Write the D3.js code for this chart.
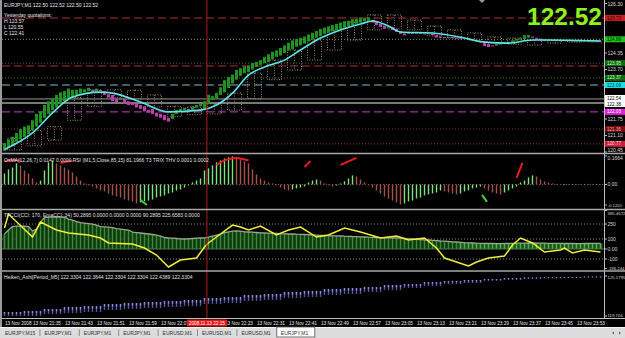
<!DOCTYPE html>
<html>
<head>
<meta charset="utf-8">
<script src="https://cdn.jsdelivr.net/npm/d3@7"></script>
<style>
  body { margin: 0; background: #000; overflow: hidden; }
  text { font-family: "Liberation Sans", Arial, sans-serif; }
</style>
</head>
<body>
<svg id="chart"></svg>
<script>
const W = 625, H = 338;
const nBars = 150;

// ---- main chart (EURJPY M1) ----
const candleOpen = [
  120.50,120.62,120.70,120.85,120.95,121.05,121.15,121.30,121.45,121.60,
  121.80,121.95,122.10,122.20,122.35,122.45,122.55,122.62,122.70,122.75,
  122.80,122.85,122.90,122.82,122.90,122.85,122.72,122.70,122.55,122.50,
  122.55,122.45,122.40,122.35,122.30,122.25,122.10,122.15,122.00,121.95,
  121.90,121.80,121.75,121.95,122.05,122.10,122.15,122.10,122.20,122.25,
  122.15,122.35,122.50,122.55,122.70,122.80,122.97,123.15,123.30,123.45,
  123.56,123.60,123.70,123.80,123.88,123.95,124.00,124.10,124.20,124.25,
  124.35,124.45,124.50,124.60,124.65,124.72,124.80,124.88,124.95,125.02,
  125.10,125.15,125.20,125.25,125.30,125.35,125.40,125.45,125.50,125.55,
  125.60,125.62,125.65,125.58,125.50,125.42,125.35,125.38,125.30,125.22,
  125.12,125.10,125.14,125.10,125.14,125.12,125.10,125.12,125.06,125.00,
  124.98,124.95,124.98,124.95,124.93,124.92,124.94,124.88,124.86,124.82,
  124.80,124.70,124.65,124.64,124.70,124.72,124.75,124.78,124.84,124.88,
  124.90,124.95,125.00,124.95,124.92,124.88,124.84,124.86,124.84,124.85,
  124.83,124.85,124.84,124.82,124.83,124.81,124.82,124.80,124.81,124.80
];
const candleClose = [
  120.80,120.95,121.05,121.20,121.35,121.45,121.50,121.70,121.95,122.05,
  122.30,122.45,122.55,122.70,122.80,122.85,122.95,122.90,122.90,122.95,
  122.92,122.98,122.82,122.95,122.85,122.70,122.60,122.45,122.40,122.55,
  122.35,122.30,122.30,122.20,122.15,122.05,122.00,121.95,121.85,121.80,
  121.70,121.65,121.95,122.10,122.15,122.20,122.10,122.25,122.30,122.35,
  122.45,122.70,122.65,122.78,123.00,123.28,123.40,123.50,123.68,123.75,
  123.82,123.85,123.95,124.00,124.07,124.20,124.30,124.40,124.45,124.55,
  124.65,124.75,124.85,124.90,124.95,125.00,125.08,125.15,125.22,125.30,
  125.35,125.40,125.45,125.50,125.55,125.60,125.62,125.68,125.70,125.75,
  125.72,125.75,125.55,125.45,125.38,125.30,125.40,125.25,125.18,125.10,
  125.05,125.15,125.10,125.15,125.12,125.08,125.12,125.05,124.96,124.94,
  124.94,124.98,124.95,124.92,124.90,124.95,124.88,124.85,124.80,124.75,
  124.62,124.59,124.62,124.70,124.72,124.76,124.80,124.85,124.90,124.95,
  125.05,125.06,124.95,124.90,124.86,124.82,124.86,124.84,124.85,124.83,
  124.85,124.84,124.82,124.83,124.81,124.82,124.80,124.81,124.80,124.81
];
const maBars   = [0, 7, 12, 17, 24, 27, 34, 41, 49, 53, 57, 61, 65, 70, 74, 79, 84, 89, 92, 96, 99, 107, 115, 120, 126, 132, 136, 149];
const maValues = [120.55,121.20,121.99,122.62,122.81,122.77,122.42,122.03,122.10,122.30,122.77,123.48,123.80,124.07,
                  124.47,124.94,125.26,125.49,125.61,125.41,125.18,125.14,124.94,124.78,124.74,124.86,124.86,124.82];
// M5 candles drawn over the M1 bars, one per 5 bars
const m5High = [121.00,121.30,121.45,122.60,122.90,122.90,122.88,122.70,122.25,122.22,122.35,122.77,123.56,124.07,124.47,
                124.86,125.26,125.57,125.85,125.85,125.65,125.41,125.26,125.14,124.98,124.94,124.86,124.86,124.86,124.84];
const m5Low  = [120.53,120.70,120.92,121.70,122.25,122.60,122.55,122.22,121.85,121.92,121.95,122.10,122.55,123.30,123.68,
                124.07,124.47,124.86,125.26,125.30,125.26,125.02,124.94,124.86,124.74,124.70,124.66,124.74,124.78,124.80];
const priceTicks = [126.30, 125.65, 125.00, 124.35, 123.70, 123.05, 122.40, 121.75, 121.10, 120.45];
const levelPrices = [125.73, 124.89, 123.95, 123.84, 123.37, 123.09, 122.54, 122.38, 122.03, 121.36, 120.77];
const lastPrice = "122.52";
const headerLines = ["EURJPY,M1  122.50 122.52 122.50 122.52", "Yesterday quotations:", "H 123.57", "L 120.55", "C 122.41"];

// ---- OsMA panel ----
const osmaValues = [
  0.064,0.088,0.099,0.123,0.111,0.082,0.064,0.035,0.012,0.023,
  0.082,0.129,0.140,0.123,0.111,0.099,0.088,0.070,0.047,0.023,
  0.006,-0.006,-0.012,-0.023,-0.035,-0.041,-0.053,-0.064,-0.070,-0.076,
  -0.088,-0.094,-0.099,-0.111,-0.105,-0.099,-0.094,-0.088,-0.076,-0.070,
  -0.064,-0.053,-0.047,-0.035,-0.029,-0.018,-0.006,0.012,0.023,0.035,
  0.082,0.094,0.111,0.129,0.140,0.152,0.158,0.164,0.158,0.146,
  0.135,0.123,0.088,0.058,0.035,0.023,0.012,0.006,-0.006,-0.018,
  -0.029,-0.035,-0.029,-0.023,-0.018,-0.012,0.012,0.023,0.029,0.023,
  0.006,-0.006,-0.012,-0.006,0.006,0.018,0.035,0.053,0.047,0.029,
  0.012,-0.006,-0.018,-0.035,-0.053,-0.070,-0.082,-0.094,-0.105,-0.117,
  -0.111,-0.099,-0.094,-0.082,-0.076,-0.064,-0.058,-0.053,-0.047,-0.035,
  -0.041,-0.047,-0.053,-0.058,-0.053,-0.041,-0.035,-0.023,-0.018,-0.012,
  -0.023,-0.035,-0.047,-0.053,-0.058,-0.047,-0.035,-0.023,-0.012,0.012,
  0.023,0.041,0.053,0.047,0.029,0.018,0.012,0.006,0.003,0.002,
  0.003,0.002,0.003,0.002,0.002,0.003,0.002,0.002,0.003,0.002
];
const t3Up = [
  [[0, 0.135], [2, 0.143], [4, 0.140]],
  [[14, 0.126], [15.5, 0.133], [17, 0.137]],
  [[53, 0.115], [55.5, 0.145], [58, 0.155], [61, 0.140]],
  [[75, 0.102], [76.5, 0.137]],
  [[84, 0.114], [86, 0.135], [88, 0.155]],
  [[128, 0.038], [129.5, 0.126]]
];
const t3Down = [
  [[34, -0.091], [35.6, -0.120]],
  [[119.4, -0.061], [120.6, -0.102]]
];
const osmaTicks = [0.1664, 0, -0.1201];
const osmaTickText = ["0.1664", "0.00", "-0.1201"];
const osmaTitle = "OsMA(12,26,7) 0.0147 0.0000  RSI (M1,5,Close,85,15) 81.1966   T3 TRIX THV 0.0001 0.0002";

// ---- CCI panel ----
const cciMain = [
  150,190,225,230,230,228,225,180,200,270,315,320,320,322,320,318,300,290,275,265,
  260,255,250,240,225,222,218,214,205,200,195,190,170,165,160,155,150,145,140,130,
  115,110,108,105,102,100,102,105,108,110,112,118,130,140,150,165,172,178,180,178,
  172,170,168,165,162,160,158,156,155,153,152,150,150,148,147,145,143,140,138,136,
  135,134,132,131,130,128,127,125,124,122,120,118,117,115,113,112,111,110,110,108,
  105,102,100,97,95,92,90,87,84,80,78,75,72,70,67,64,62,60,58,
  57,56,55,55,54,54,55,56,57,58,58,59,60,60,59,58,58,57,57,56,56,55,55,55,54,54,55,55,56,56,56
];
const cciFastBars   = [0,1,7,9,13,16,21,24,26,32,35,38,41,44,48,50,51,53,57,59,61,64,68,71,74,78,81,85,89,94,
                       98,101,105,108,110,113,116,118,121,125,127,129,132,135,139,140,142,145,149];
const cciFastValues = [210,350,120,270,190,160,140,110,60,50,10,-60,-180,-110,-90,20,60,120,240,220,
                       190,230,140,190,220,120,140,210,170,110,130,90,110,10,-90,-130,-170,-130,-90,-70,
                       40,110,60,-30,-10,10,-40,-10,-30];
const cciLevels = [250, 100, -100];
const cciTicks = [385.4672, 250, 100, 0, -100, -196.244];
const cciTickText = ["385.4672", "250", "100", "0.00", "-100", "-196.244"];
const cciTitle = "TFCCI(CCI: 170, EmaCCI: 34) 50.2895 0.0000 0.0000 0.0000 90.2895 225.6583 0.0000";

// ---- Heiken Ashi (M5) panel, one value per 5 bars ----
const haHigh = [120.25,120.39,120.66,120.94,121.07,121.35,121.48,121.62,121.76,121.89,122.17,122.30,122.58,122.72,122.99,
                123.13,123.40,123.54,123.67,123.95,124.08,124.36,124.50,124.63,124.77,124.91,124.98,125.04,125.04,125.11];
const haLow  = [119.70,119.70,119.98,120.11,120.25,120.53,120.66,120.80,120.94,121.07,121.35,121.48,121.76,121.89,122.17,
                122.30,122.58,122.72,122.99,123.26,123.54,123.81,124.08,124.22,124.50,124.63,124.77,124.84,124.91,124.98];
const haTicks = [125.1795, 119.704];
const haTickText = ["125.1795", "119.704"];
const haTitle = "Heiken_Ashi[Period_M5] 122.3304 122.3644 122.3304 122.3304 122.4389 122.3304";

// ---- time axis and tabs ----
const timeBars = [0, 7, 15, 23, 31, 39, 55, 63, 71, 79, 87, 95, 103, 111, 119, 127, 135, 143];
const timeLabels = ["13 Nov 2008", "13 Nov 21:35", "13 Nov 21:43", "13 Nov 21:51", "13 Nov 21:59", "13 Nov 22:07",
  "13 Nov 22:23", "13 Nov 22:31", "13 Nov 22:41", "13 Nov 22:49", "13 Nov 22:57", "13 Nov 23:05", "13 Nov 23:13",
  "13 Nov 23:21", "13 Nov 23:29", "13 Nov 23:37", "13 Nov 23:45", "13 Nov 23:53"];
const cursorBar = 50.6;
const cursorText = "2008.11.13 22:15";
const tabLabels = ["EURJPY,M15", "EURJPY,M1", "EURJPY,M1", "EURJPY,M1", "EURUSD,M1", "EURUSD,M1", "EURUSD,M1", "EURJPY,M1"];
const activeTab = 7;

// ================= drawing =================
const svg = d3.select("#chart").attr("width", W).attr("height", H);
svg.append("rect").attr("width", W).attr("height", H).attr("fill", "#000");

const axisX = 604;
const xs = d3.scaleLinear().domain([0, nBars - 1]).range([4.5, 600.5]);
const yMain = d3.scaleLinear().domain([120.45, 126.30]).range([152, 3.5]);
const yOsma = d3.scaleLinear().domain([-0.1201, 0.1664]).range([205, 156]);
const yCci = d3.scaleLinear().domain([-196.244, 385.4672]).range([268.6, 210.5]);
const yHa = d3.scaleLinear().domain([119.704, 125.1795]).range([316, 276]);

const defs = svg.append("defs");
function clip(id, y0, y1) {
  defs.append("clipPath").attr("id", id).append("rect")
    .attr("x", 2).attr("y", y0).attr("width", axisX - 2).attr("height", y1 - y0);
  return svg.append("g").attr("clip-path", `url(#${id})`);
}
const gMain = clip("cMain", 0, 153);
const gOsma = clip("cOsma", 155, 209);
const gCci = clip("cCci", 211, 270);
const gHa = clip("cHa", 272, 318);

// cursor line behind everything
svg.append("line")
  .attr("x1", xs(cursorBar)).attr("x2", xs(cursorBar))
  .attr("y1", 0).attr("y2", 318)
  .attr("stroke", "#a82020").attr("stroke-width", 1);

// level lines
const levelLook = [
  { stroke: "#b83232", dash: "8,4", box: "#c81e1e", ink: "#300" },
  { stroke: "#7f9a7f", dash: "1,2", box: "#20c020", ink: "#020" },
  { stroke: "#3c6e3c", dash: "1,2", box: "#0c6a0c", ink: "#cfc" },
  { stroke: "#a83030", dash: "8,4", box: null },
  { stroke: "#3c6e3c", dash: "1,2", box: "#0c6a0c", ink: "#cfc" },
  { stroke: "#7ab6c8", dash: "8,4", box: "#18e0e8", ink: "#033" },
  { stroke: "#9a9a9a", dash: null, box: "#ffffff", ink: "#000" },
  { stroke: "#f0f0f0", dash: null, box: "#ffffff", ink: "#000" },
  { stroke: "#c040c8", dash: "8,4", box: "#e020e0", ink: "#fff" },
  { stroke: "#7a3030", dash: "1,2", box: "#7a0a0a", ink: "#dbb" },
  { stroke: "#a83048", dash: "1,2", box: "#c8203c", ink: "#fdd" }
];
gMain.selectAll(".lvl").data(levelPrices).enter().append("line")
  .attr("x1", 2).attr("x2", axisX)
  .attr("y1", d => yMain(d)).attr("y2", d => yMain(d))
  .attr("stroke", (d, i) => levelLook[i].stroke)
  .attr("stroke-dasharray", (d, i) => levelLook[i].dash);

// M5 overlay candles (dotted)
const m5 = d3.range(m5High.length);
gMain.selectAll(".m5").data(m5).enter().append("rect")
  .attr("x", g => xs(g * 5 + 1) - 1)
  .attr("width", g => xs(g * 5 + 4) - xs(g * 5 + 1) + 2)
  .attr("y", g => yMain(m5High[g]))
  .attr("height", g => yMain(m5Low[g]) - yMain(m5High[g]))
  .attr("fill", "none").attr("stroke", "#9c8870").attr("stroke-width", 1)
  .attr("stroke-dasharray", "1,1.5");
gMain.selectAll(".m5w").data(m5).enter().append("line")
  .attr("x1", g => xs(g * 5 + 2.5)).attr("x2", g => xs(g * 5 + 2.5))
  .attr("y1", g => yMain(m5High[g])).attr("y2", g => yMain(m5Low[g]))
  .attr("stroke", "#8a7862").attr("stroke-dasharray", "1,1.5");

// candles
const bars = d3.range(nBars);
gMain.selectAll(".cdl").data(bars).enter().append("rect")
  .attr("x", i => xs(i) - 1.5).attr("width", 3)
  .attr("y", i => yMain(Math.max(candleOpen[i], candleClose[i])))
  .attr("height", i => Math.max(1, Math.abs(yMain(candleOpen[i]) - yMain(candleClose[i]))))
  .attr("fill", i => candleClose[i] >= candleOpen[i] ? "#1f931f" : "#c23cb0");

// moving average
gMain.append("path")
  .datum(maBars.map((b, k) => [b, maValues[k]]))
  .attr("fill", "none").attr("stroke", "#5ee6e6").attr("stroke-width", 1.6)
  .attr("d", d3.line().x(d => xs(d[0])).y(d => yMain(d[1])).curve(d3.curveMonotoneX));

// header text
svg.selectAll(".hdr").data(headerLines).enter().append("text")
  .attr("x", 4).attr("y", (d, i) => i === 0 ? 7 : 11 + i * 6)
  .attr("font-size", 5).attr("fill", "#e8e8e8").text(d => d);

// big last price
svg.append("text")
  .attr("x", 602).attr("y", 25).attr("text-anchor", "end")
  .attr("font-size", 24.5).attr("font-weight", "bold")
  .attr("fill", "#8cf21e").text(lastPrice);

// chart shift marker
svg.append("path").attr("d", "M479,0 L485,0 L482,3 Z").attr("fill", "#9a9a9a");

// ---- OsMA ----
gOsma.append("line")
  .attr("x1", 2).attr("x2", axisX).attr("y1", yOsma(0)).attr("y2", yOsma(0))
  .attr("stroke", "#8a4a4a").attr("stroke-dasharray", "1,2");
gOsma.selectAll(".osma").data(bars).enter().append("rect")
  .attr("x", i => xs(i) - 0.7).attr("width", 1.4)
  .attr("y", i => Math.min(yOsma(0), yOsma(osmaValues[i])))
  .attr("height", i => Math.max(0.6, Math.abs(yOsma(osmaValues[i]) - yOsma(0))))
  .attr("fill", i => (i === 0 || osmaValues[i] > osmaValues[i - 1]) ? "#7ee07e" : "#a4524c");
const t3Line = d3.line().x(d => xs(d[0])).y(d => yOsma(d[1])).curve(d3.curveMonotoneX);
gOsma.selectAll(".t3u").data(t3Up).enter().append("path")
  .attr("d", t3Line).attr("fill", "none").attr("stroke", "#e81c1c").attr("stroke-width", 2);
gOsma.selectAll(".t3d").data(t3Down).enter().append("path")
  .attr("d", t3Line).attr("fill", "none").attr("stroke", "#3cd23c").attr("stroke-width", 2);
svg.append("text").attr("x", 4).attr("y", 162).attr("font-size", 5)
  .attr("fill", "#e0e0e0").text(osmaTitle);

// ---- CCI ----
gCci.selectAll(".clv").data(cciLevels).enter().append("line")
  .attr("x1", 2).attr("x2", axisX).attr("y1", d => yCci(d)).attr("y2", d => yCci(d))
  .attr("stroke", "#8c8c8c").attr("stroke-dasharray", "1,2");
gCci.selectAll(".cbar").data(bars).enter().append("rect")
  .attr("x", i => xs(i) - 2).attr("width", 4)
  .attr("y", i => yCci(cciMain[i]))
  .attr("height", i => yCci(0) - yCci(cciMain[i]))
  .attr("fill", i => cciMain[i] < 70 ? "#236e23" : "#174a17");
gCci.selectAll(".cstripe").data(bars).enter().append("line")
  .attr("x1", i => xs(i)).attr("x2", i => xs(i))
  .attr("y1", i => yCci(cciMain[i])).attr("y2", yCci(0))
  .attr("stroke", i => cciMain[i] < 70 ? "#4fb04f" : "#3a8a3a").attr("stroke-width", 1);
gCci.append("path").datum(bars)
  .attr("fill", "none").attr("stroke", "#9aa88c").attr("stroke-width", 1.3)
  .attr("d", d3.line().x(i => xs(i)).y(i => yCci(cciMain[i])));
gCci.append("line").attr("x1", 2).attr("x2", axisX).attr("y1", yCci(0)).attr("y2", yCci(0))
  .attr("stroke", "#4a7a4a");
gCci.append("path")
  .datum(cciFastBars.map((b, k) => [b, cciFastValues[k]]))
  .attr("fill", "none").attr("stroke", "#f2ee3a").attr("stroke-width", 1.5)
  .attr("d", d3.line().x(d => xs(d[0])).y(d => yCci(d[1])));
svg.append("text").attr("x", 4).attr("y", 216.5).attr("font-size", 5)
  .attr("fill", "#e0e0e0").text(cciTitle);

// ---- Heiken Ashi ----
const haG = i => Math.floor(i / 5);
gHa.selectAll(".ha").data(bars).enter().append("rect")
  .attr("x", i => xs(i) - 0.7).attr("width", 1.4)
  .attr("y", i => yHa(haHigh[haG(i)]))
  .attr("height", i => Math.max(1, yHa(haLow[haG(i)]) - yHa(haHigh[haG(i)])))
  .attr("fill", "#55559e");
gHa.selectAll(".hab").data(bars).enter().append("rect")
  .attr("x", i => xs(i) - 0.7).attr("width", 1.4)
  .attr("y", i => yHa(haHigh[haG(i)]))
  .attr("height", i => Math.max(0.8, 0.45 * (yHa(haLow[haG(i)]) - yHa(haHigh[haG(i)]))))
  .attr("fill", "#8c8ce6");
svg.append("text").attr("x", 4).attr("y", 279).attr("font-size", 5)
  .attr("fill", "#e0e0e0").text(haTitle);

// ---- right axis ----
svg.append("line").attr("x1", axisX + 0.5).attr("x2", axisX + 0.5).attr("y1", 0).attr("y2", 318)
  .attr("stroke", "#bdbdbd");
function tickLabels(vals, texts, scale, lo, hi) {
  const g = svg.append("g");
  g.selectAll("line").data(vals).enter().append("line")
    .attr("x1", axisX).attr("x2", axisX + 3)
    .attr("y1", d => scale(d)).attr("y2", d => scale(d)).attr("stroke", "#bdbdbd");
  g.selectAll("text").data(vals).enter().append("text")
    .attr("x", axisX + 3.5)
    .attr("y", d => Math.min(hi, Math.max(lo, scale(d) + 1.8)))
    .attr("font-size", (d, i) => texts[i].length > 6 ? 4.3 : 5)
    .attr("fill", "#d8d8d8")
    .text((d, i) => texts[i]);
}
// price ticks that are hidden behind a level box are left out
const boxed = levelPrices.map((p, i) => ({ p, look: levelLook[i], y: yMain(p) })).filter(d => d.look.box);
// boxes closer than their height are pushed apart, as the terminal stacks them
boxed.sort((a, b) => a.y - b.y);
for (let k = 1; k < boxed.length; k++) {
  const gap = boxed[k].y - boxed[k - 1].y;
  if (gap < 6) {
    const push = (6 - gap) / 2;
    boxed[k - 1].y -= push;
    boxed[k].y += push;
  }
}
const freeTicks = priceTicks.filter(t => boxed.every(b => Math.abs(b.y - yMain(t)) > 5));
tickLabels(freeTicks, freeTicks.map(d => d.toFixed(2)), yMain, 5.5, 152);
tickLabels(osmaTicks, osmaTickText, yOsma, 160, 207.5);
tickLabels(cciTicks, cciTickText, yCci, 215, 269.5);
tickLabels(haTicks, haTickText, yHa, 279, 317);

// price level boxes on the axis
svg.selectAll(".lbox").data(boxed).enter().append("rect")
  .attr("x", axisX + 1).attr("width", 20).attr("y", d => d.y - 3).attr("height", 6)
  .attr("fill", d => d.look.box);
svg.selectAll(".ltxt").data(boxed).enter().append("text")
  .attr("x", axisX + 3).attr("y", d => d.y + 1.6)
  .attr("font-size", 4.6).attr("fill", d => d.look.ink)
  .text(d => d.p.toFixed(2));

// panel separators
[153.5, 209.5, 271].forEach(y => {
  svg.append("line").attr("x1", 0).attr("x2", W).attr("y1", y).attr("y2", y)
    .attr("stroke", "#a8a8a8").attr("stroke-width", 1.6);
});
svg.append("line").attr("x1", 0).attr("x2", W).attr("y1", 318.5).attr("y2", 318.5)
  .attr("stroke", "#bdbdbd");
svg.append("rect").attr("x", 0).attr("y", 0).attr("width", 2).attr("height", 327).attr("fill", "#9a9a9a");

// ---- time axis ----
svg.selectAll(".tl").data(timeBars).enter().append("text")
  .attr("x", b => xs(b) + 0.5).attr("y", 324.8)
  .attr("font-size", 4.7).attr("fill", "#e6e6e6")
  .text((b, i) => timeLabels[i]);
svg.append("rect").attr("x", xs(cursorBar) - 20).attr("y", 319.5).attr("width", 40).attr("height", 7)
  .attr("fill", "#e01a1a");
svg.append("text").attr("x", xs(cursorBar)).attr("y", 324.8).attr("text-anchor", "middle")
  .attr("font-size", 4.7).attr("fill", "#fff").text(cursorText);

// ---- tabs ----
svg.append("rect").attr("x", 0).attr("y", 327).attr("width", W).attr("height", 11).attr("fill", "#dcdcdc");
svg.append("line").attr("x1", 0).attr("x2", W).attr("y1", 327.5).attr("y2", 327.5).attr("stroke", "#f4f4f4");
const tabX = k => 2 + k * 39.4;
svg.append("rect").attr("x", tabX(activeTab) - 1).attr("y", 327).attr("width", 38).attr("height", 10)
  .attr("fill", "#fff").attr("stroke", "#555").attr("stroke-width", 0.8);
svg.selectAll(".tab").data(tabLabels).enter().append("text")
  .attr("x", (d, k) => tabX(k) + 3).attr("y", 334.5)
  .attr("font-size", 5).attr("fill", "#303030").text(d => d);
svg.selectAll(".tsep").data(d3.range(1, activeTab)).enter().append("line")
  .attr("x1", k => tabX(k) - 1.5).attr("x2", k => tabX(k) - 1.5)
  .attr("y1", 329.5).attr("y2", 336).attr("stroke", "#8a8a8a");
svg.append("path").attr("d", "M612,333 L614,331.5 L614,334.5 Z").attr("fill", "#666");
svg.append("path").attr("d", "M621,333 L619,331.5 L619,334.5 Z").attr("fill", "#666");
</script>
</body>
</html>
